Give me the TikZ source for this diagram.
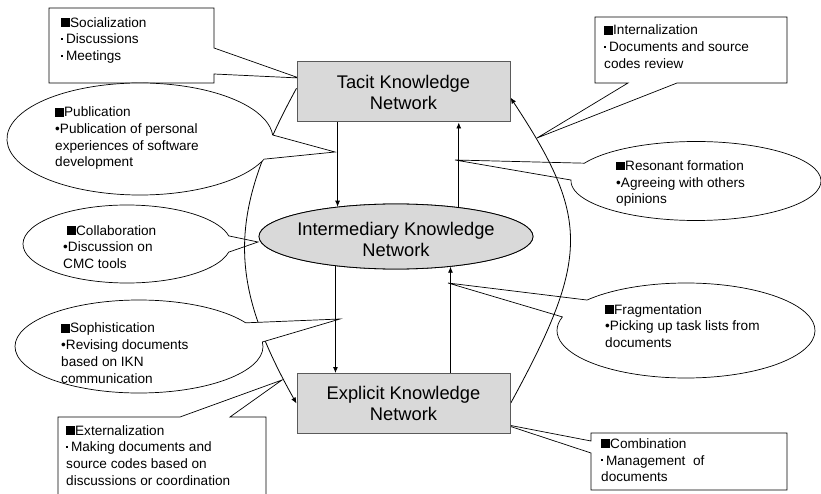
\documentclass[tikz,border=0pt]{standalone}
\usepackage{fontspec}
\setmainfont{Liberation Sans}
\usetikzlibrary{arrows.meta,calc,shapes.geometric}

\definecolor{knfill}{RGB}{217,217,217}
\definecolor{knedge}{RGB}{90,90,90}

% heading square and small list dot
\newcommand\blk{\rule{0.66em}{0.66em}}
\newcommand\mdot{\raisebox{0.3em}{\rule{0.14em}{0.14em}}\hspace{0.22em}}

% speech bubble: centre x, centre y, x radius, y radius, start angle, end angle, tip
\newcommand\bubble[7]{%
  \draw[callout] ($(#1,#2)+({#3*cos(#5)},{#4*sin(#5)})$)
    arc[start angle=#5, end angle=#6, x radius=#3, y radius=#4] -- (#7) -- cycle;}

\tikzset{
  callout/.style={draw=black, line width=0.7pt, fill=white, line join=miter},
  knet/.style={draw=knedge, line width=1pt, fill=knfill, minimum width=213,
    minimum height=60, inner sep=0pt, align=center,
    font=\fontsize{18.3}{21}\selectfont},
  kbig/.style={align=center, inner sep=0pt, font=\fontsize{18.3}{21}\selectfont},
  % anchored on the baseline of the last line
  ctext/.style={anchor=base west, align=left, inner sep=0pt,
    font=\fontsize{13.6}{16.7}\selectfont},
  arr/.style={draw=black, line width=0.8pt, -{Latex[length=6pt,width=5pt]}}
}

\begin{document}
\begin{tikzpicture}[x=1pt,y=-1pt]
\useasboundingbox (0,0) rectangle (821,494);
\clip (0,0) rectangle (821,494);

% wedge tips of the callouts
\coordinate (soctip) at (299,78);
\coordinate (inttip) at (537,138);
\coordinate (exttip) at (282,380);
\coordinate (comtip) at (503,424);
\coordinate (pubtip) at (335,152);
\coordinate (coltip) at (258,242);
\coordinate (soptip) at (340,319);
\coordinate (restip) at (455,160);
\coordinate (fratip) at (448,283);

% callouts lying under the feedback curves
\bubble{127}{244}{104}{39}{12}{348}{coltip}
\bubble{696}{181}{125}{39.5}{206.8}{541.4}{restip}
\bubble{686}{330.5}{129}{47.5}{219.9}{556.6}{fratip}
\draw[callout] (595,17) -- (787,17) -- (787,83) -- (677,83) -- (inttip)
  -- (628,83) -- (595,83) -- cycle;
\draw[callout] (49,8) -- (214,8) -- (214,48) -- (soctip) -- (214,74)
  -- (214,83) -- (49,83) -- cycle;
\draw[callout] (58,500) -- (58,417) -- (180,417) -- (exttip) -- (230,417)
  -- (266,417) -- (266,500);
\draw[callout] (591,433) -- (787,433) -- (787,490) -- (591,490) -- (591,453)
  -- (comtip) -- (591,441) -- cycle;

% main knowledge networks
\node[knet] (tacit) at (403.5,92) {};
\node[knet] (explicit) at (403.5,403.5) {};
\node[ellipse, draw=black, line width=0.8pt, fill=knfill, minimum width=274,
  minimum height=65, inner sep=0pt] (inter) at (396,236.5) {};

% feedback curves
\draw[arr] (tacit.178) .. controls (227.7,214) and (227.7,281) .. (explicit.west);
\draw[arr] (explicit.east) .. controls (590,258) and (590,218) .. (tacit.357.3);

% callouts lying over the left curve
\bubble{140}{139}{133}{56}{21.1}{355.9}{pubtip}
\bubble{139}{346.5}{124}{46.5}{-5.6}{329.4}{soptip}

% redraw boxes on top
\node[knet] at (tacit.center) {Tacit Knowledge\\Network};
\node[knet] at (explicit.center) {Explicit Knowledge\\Network};
\node[ellipse, draw=black, line width=0.8pt, fill=knfill, minimum width=274,
  minimum height=65, inner sep=0pt] at (inter.center) {};
\node[kbig] (intertext) at (396,239) {Intermediary Knowledge\\Network};

% vertical flows
\draw[arr] (tacit.south -| inter.153.6) -- (inter.153.6);
\draw[arr] (inter.25.5) -- (inter.25.5 |- tacit.south);
\draw[arr] (inter.206.4) -- (inter.206.4 |- explicit.north);
\draw[arr] (explicit.north -| inter.331) -- (inter.331);

% callout texts
\node[ctext] (soctext) at (61,60.7) {\blk Socialization\\\mdot Discussions\\\mdot Meetings};
\node[ctext] (inttext) at (604,68.4) {\blk Internalization\\\mdot Documents and source\\codes review};
\node[ctext] (exttext) at (66,485.1) {\blk Externalization\\\mdot Making documents and\\source codes based on\\discussions or coordination};
\node[ctext] (comtext) at (601,481.7) {\blk Combination\\\mdot Management~ of\\documents};
\node[ctext] (pubtext) at (55,167) {\blk Publication\\•Publication of personal\\experiences of software\\development};
\node[ctext] (coltext) at (63,268.4) {\hspace*{4pt}\blk Collaboration\\•Discussion on\\CMC tools};
\node[ctext] (soptext) at (61,383) {\blk Sophistication\\•Revising documents\\based on IKN\\communication};
\node[ctext] (restext) at (616,203.9) {\blk Resonant formation\\•Agreeing with others\\opinions};
\node[ctext] (fratext) at (605,347.4) {\blk Fragmentation\\•Picking up task lists from\\documents};
\end{tikzpicture}
\end{document}
